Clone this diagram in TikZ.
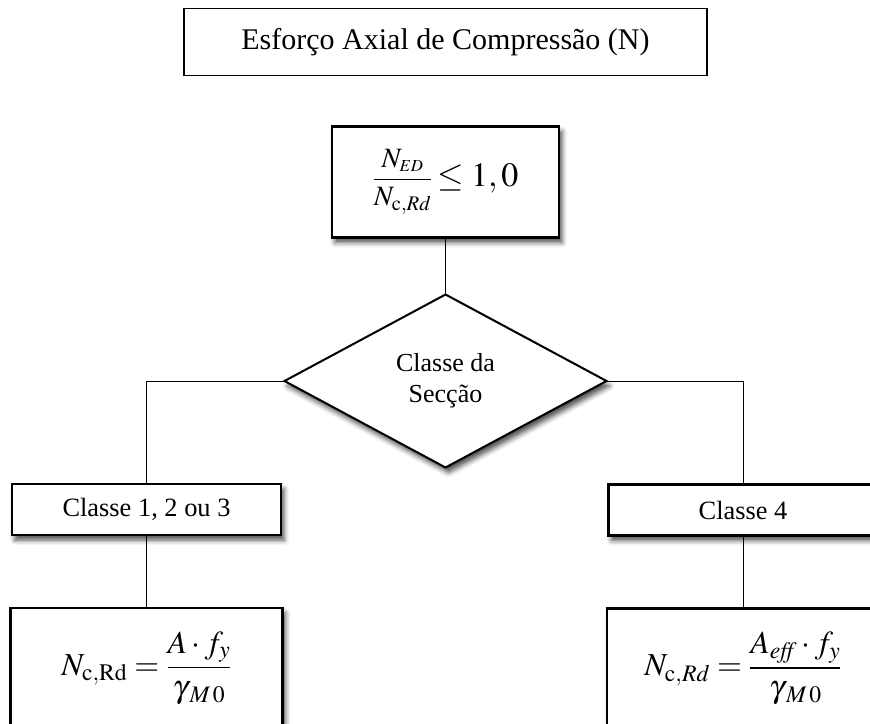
\documentclass[tikz,border=0pt]{standalone}
\usepackage{amsmath}
\usepackage{mathptmx}
\usepackage{fontspec}
\setmainfont{Liberation Serif}
\usepackage{tikz}
\usetikzlibrary{positioning,shapes.geometric,shadows.blur}

\begin{document}
\begin{tikzpicture}[x=1pt,y=-1pt,node distance=50pt]
	\tikzstyle{sombra}=[blur shadow={shadow xshift=3pt, shadow yshift=-5pt, shadow blur radius=5pt, shadow opacity=70}]
	\tikzstyle{titulo}=[rectangle, draw=black, line width=1.6pt, outer sep=0pt, fill=white, minimum width=523pt, minimum height=67pt, font=\fontsize{30}{36}\selectfont]
	\tikzstyle{caixa}=[rectangle, draw=black, line width=2.6pt, outer sep=0pt, fill=white, sombra, minimum width=227pt, minimum height=111pt, font=\fontsize{28}{32}\selectfont]
	\tikzstyle{decisao}=[diamond, draw=black, line width=2pt, outer sep=0pt, fill=white, sombra, inner sep=0pt, minimum width=322pt, minimum height=173pt, align=center, font=\fontsize{26}{31}\selectfont]
	\tikzstyle{classe}=[rectangle, draw=black, line width=2.2pt, outer sep=0pt, fill=white, sombra, minimum width=269pt, minimum height=51pt, font=\fontsize{26.4}{30}\selectfont]
	\tikzstyle{calculo}=[rectangle, draw=black, line width=2.2pt, outer sep=0pt, fill=white, sombra, minimum width=272pt, minimum height=120pt, font=\fontsize{32}{36}\selectfont]
	\tikzstyle{linha}=[draw=black, line width=0.9pt]

	\clip (0,0) rectangle (870,723);

	\node [titulo] (esforco) at (445.5,42) {Esforço Axial de Compressão (N)};
	\node [caixa] (verif) [below=51pt of esforco] {$\dfrac{N_{\scriptscriptstyle ED}}{N_{\mathrm{c},Rd}}$\,{\fontsize{34}{40}\selectfont$\leq 1,0$}};
	\node [decisao] (secao) [below=57pt of verif] {Classe da\\Secção};

	\node [classe] (classeA) at (146.5,509.5) {Classe 1, 2 ou 3};
	\node [classe] (classeB) at (743,510) {Classe 4};

	\node [calculo] (calcA) [below=73pt of classeA] {$N_{\mathrm{c,Rd}}=\dfrac{A\cdot f_y}{\gamma_{\mkern3mu M\,0}}$};
	\node [calculo] (calcB) [below=73pt of classeB] {$N_{\mathrm{c},Rd}=\dfrac{A_{\mathit{eff}}\cdot f_y}{\gamma_{\mkern3mu M\,0}}$};

	% ligacoes
	\draw [linha] (verif) -- (secao);
	\draw [linha] (secao.west) -| (classeA.north);
	\draw [linha] (secao.east) -| (classeB.north);
	\draw [linha] (classeA) -- (calcA);
	\draw [linha] (classeB) -- (calcB);
\end{tikzpicture}
\end{document}
